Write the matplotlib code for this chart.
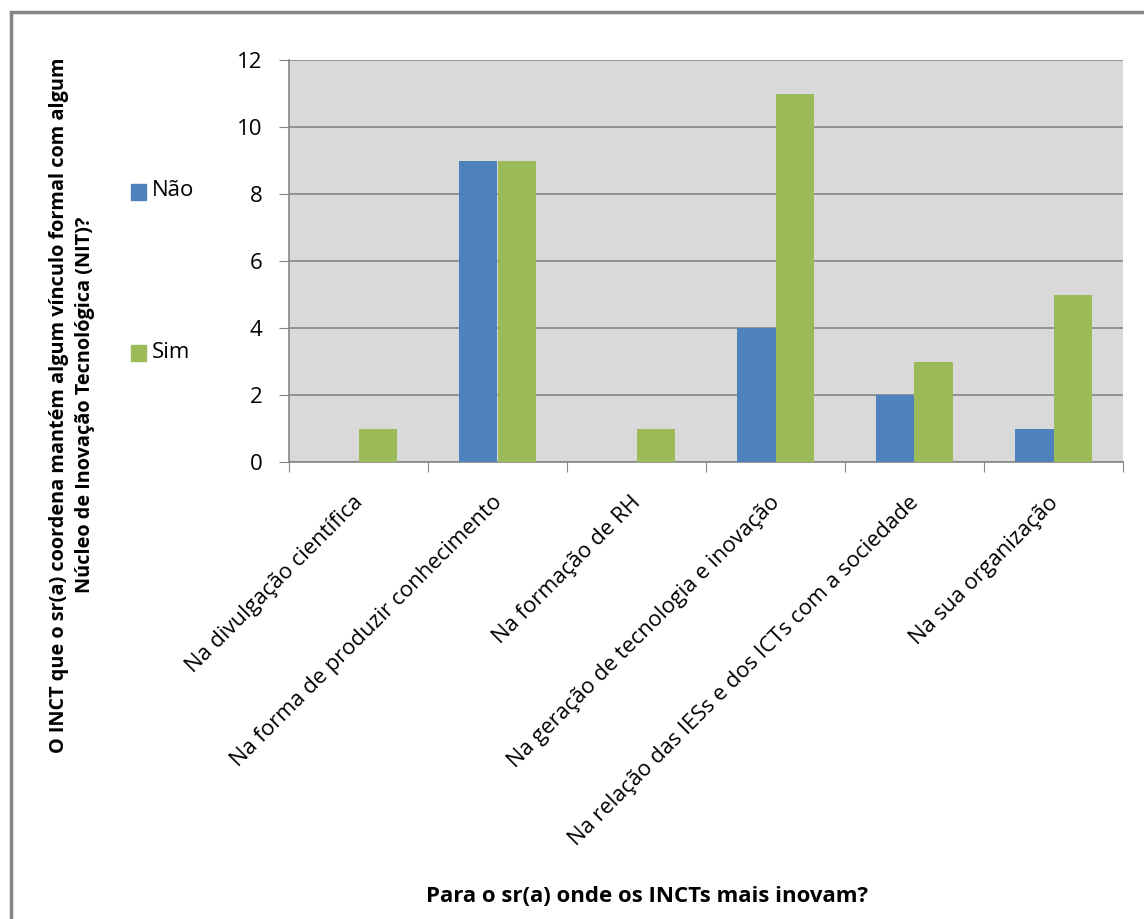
import matplotlib.pyplot as plt
import numpy as np
from matplotlib.patches import Rectangle

plt.rcParams['font.family'] = ['Open Sans', 'DejaVu Sans']

# data
categories = ['Na divulgação científica',
              'Na forma de produzir conhecimento',
              'Na formação de RH',
              'Na geração de tecnologia e inovação',
              'Na relação das IESs e dos ICTs com a sociedade',
              'Na sua organização']
nao = [0, 9, 0, 4, 2, 1]
sim = [1, 9, 1, 11, 3, 5]
series_names = ['Não', 'Sim']

blue = '#4F81BD'
green = '#9BBB59'

fig = plt.figure(figsize=(11.44, 9.19), dpi=100)
ax = fig.add_axes([289 / 1144, 1 - 462 / 919, (1123 - 289) / 1144, (462 - 60) / 919])

x = np.arange(len(categories))
w = 0.277
ax.bar(x - w / 2, nao, w, color=blue, zorder=3)
ax.bar(x + w / 2, sim, w, color=green, zorder=3)

ax.set_facecolor('#D9D9D9')
ax.set_xlim(-0.5, len(categories) - 0.5)
ax.set_ylim(0, 12)
ax.set_yticks(range(0, 13, 2))
ax.yaxis.grid(True, color='#868686', linewidth=1.2, zorder=1)
ax.tick_params(axis='y', labelsize=16, length=7, color='#868686', pad=12, direction='out')

# category boundary ticks
ax.set_xticks(np.arange(-0.5, len(categories), 1.0))
ax.set_xticklabels([])
ax.tick_params(axis='x', length=7, color='#868686', direction='out')
for i, c in enumerate(categories):
    ax.annotate(c, xy=(i, 0), xycoords=('data', 'axes fraction'),
                xytext=(1, -27), textcoords='offset points',
                rotation=45, ha='right', va='center', rotation_mode='anchor',
                fontsize=15.8, annotation_clip=False)

for s in ['top', 'right']:
    ax.spines[s].set_visible(False)
ax.spines['left'].set_color('#868686')
ax.spines['bottom'].set_color('#868686')
ax.spines['left'].set_linewidth(1.2)
ax.spines['bottom'].set_linewidth(1.2)

# legend on the left
fig.patches.append(Rectangle((131 / 1144, 1 - 200 / 919), 15 / 1144, 16 / 919,
                             transform=fig.transFigure, color=blue))
fig.text(152 / 1144, 1 - 191 / 919, series_names[0], fontsize=16, va='center')
fig.patches.append(Rectangle((131 / 1144, 1 - 361 / 919), 15 / 1144, 16 / 919,
                             transform=fig.transFigure, color=green))
fig.text(152 / 1144, 1 - 353 / 919, series_names[1], fontsize=16, va='center')

fig.text(72 / 1144, 1 - 405 / 919,
         'O INCT que o sr(a) coordena mantém algum vínculo formal com algum\n'
         'Núcleo de Inovação Tecnológica (NIT)?',
         rotation=90, ha='center', va='center', multialignment='center',
         fontsize=14.3, fontweight='bold', linespacing=1.45)

fig.text(647 / 1144, 1 - 897 / 919, 'Para o sr(a) onde os INCTs mais inovam?',
         ha='center', va='center', fontsize=16, fontweight='bold')

# outer frame
fig.patches.append(Rectangle((11 / 1144, -0.01), 1.1, 1 - 12 / 919 + 0.01,
                             transform=fig.transFigure, fill=False,
                             edgecolor='#868686', linewidth=2.5))

fig.savefig('out.png', dpi=100)
